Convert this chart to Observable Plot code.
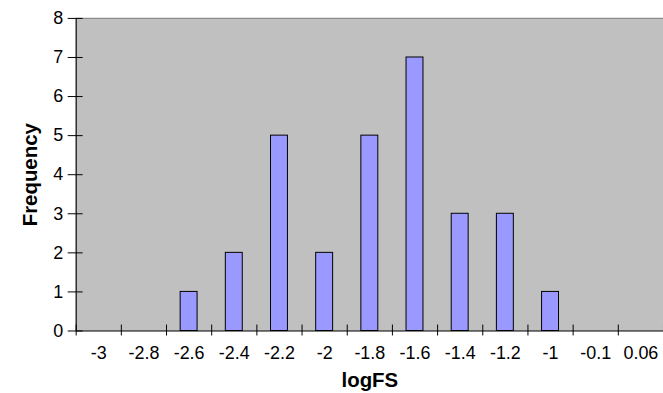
<!DOCTYPE html>
<html>
<head>
<meta charset="utf-8">
<script src="https://cdn.jsdelivr.net/npm/d3@7"></script>
<script src="https://cdn.jsdelivr.net/npm/@observablehq/plot@0.6"></script>
<style>
  html, body { margin: 0; padding: 0; background: #fff; overflow: hidden; }
  #chart { width: 663px; height: 393px; overflow: hidden; }
</style>
</head>
<body>
<div id="chart"></div>
<script>
const categories = ["-3", "-2.8", "-2.6", "-2.4", "-2.2", "-2", "-1.8", "-1.6", "-1.4", "-1.2", "-1", "-0.1", "0.06"];
const frequency = [0, 0, 1, 2, 5, 2, 5, 7, 3, 3, 1, 0, 0];
const yTicks = [0, 1, 2, 3, 4, 5, 6, 7, 8];
const xLabel = "logFS";
const yLabel = "Frequency";

const data = categories.map((c, i) => ({c, i, f: frequency[i]}));
const boundaries = d3.range(categories.length + 1);
const barHalf = 0.1875;

const chart = Plot.plot({
  width: 666,
  height: 393,
  marginLeft: 76,
  marginRight: 0,
  marginTop: 18,
  marginBottom: 61,
  style: {fontFamily: "'Liberation Sans', Arial, sans-serif", background: "transparent"},
  x: {type: "linear", domain: [0, categories.length], axis: null},
  y: {domain: [0, 8], axis: null},
  marks: [
    Plot.frame({fill: "#c0c0c0", stroke: null}),
    Plot.ruleY([8], {stroke: "#8c8c8c", strokeWidth: 1.2}),
    Plot.rectY(data.filter(d => d.f > 0), {
      x1: d => d.i + 0.5 - barHalf,
      x2: d => d.i + 0.5 + barHalf,
      y1: 0,
      y2: "f",
      fill: "#9999ff",
      stroke: "#000",
      strokeWidth: 1
    }),
    Plot.ruleY([0], {stroke: "#000", strokeWidth: 1.2}),
    Plot.ruleX([0], {stroke: "#000", strokeWidth: 1.2}),
    Plot.ruleX(boundaries, {x: d => d, y1: 0, y2: 0, insetTop: -6, insetBottom: -5, stroke: "#000"}),
    Plot.ruleY(yTicks, {y: d => d, x1: 0, x2: 0, insetLeft: -8, insetRight: -7, stroke: "#000"}),
    Plot.axisY(yTicks, {tickSize: 0, tickPadding: 13, fontSize: 18, label: null}),
    Plot.axisX(data.map(d => d.i + 0.5), {
      tickSize: 0, tickPadding: 15, fontSize: 18, label: null,
      tickFormat: d => categories[Math.round(d - 0.5)]
    }),
    Plot.text([xLabel], {text: d => d, frameAnchor: "bottom", dy: 50, lineAnchor: "middle",
      textAnchor: "middle", fontSize: 20.5, fontWeight: "bold"}),
    Plot.text([yLabel], {text: d => d, frameAnchor: "left", dx: -46, rotate: -90, lineAnchor: "middle",
      textAnchor: "middle", fontSize: 20.5, fontWeight: "bold"})
  ]
});
document.getElementById("chart").appendChild(chart);
</script>
</body>
</html>
